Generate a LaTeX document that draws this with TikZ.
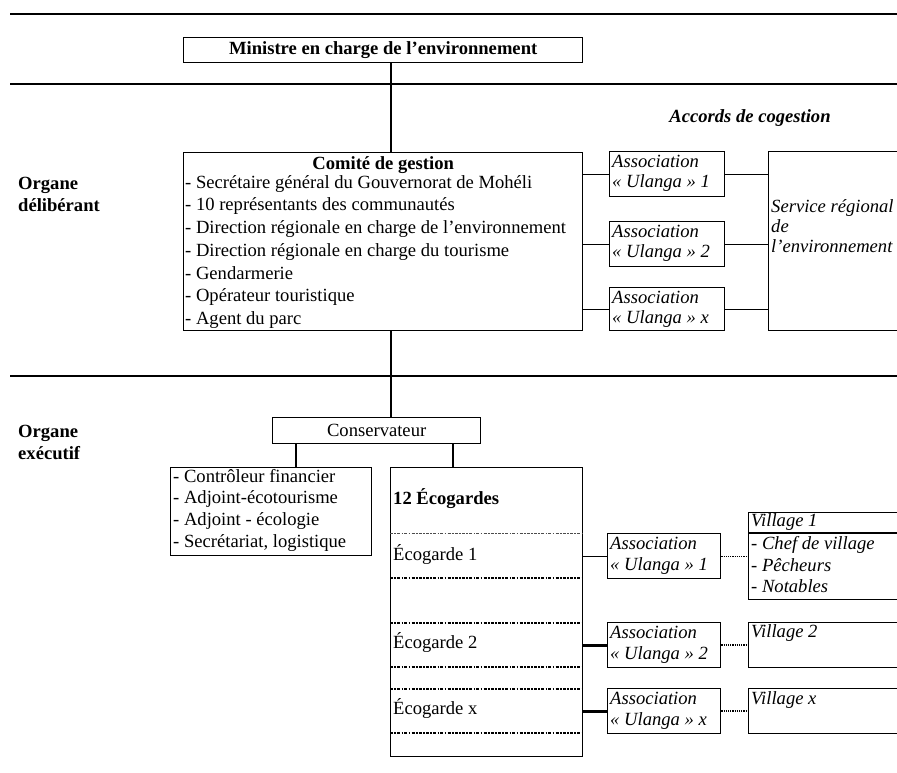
\documentclass[tikz,border=0pt]{standalone}
\usepackage{fontspec}
\setmainfont{Liberation Serif}
\usetikzlibrary{positioning}
\newcommand\diagfont{\fontsize{18.6}{22}\selectfont}

\begin{document}
\begin{tikzpicture}[x=1pt, y=-1pt,
    box/.style={draw, line width=1.3pt, inner sep=0pt, anchor=north west},
    rule/.style={line width=2.2pt},
    link/.style={line width=1.2pt},
    thicklink/.style={line width=2.8pt},
    dotlink/.style={line width=2.4pt, dash pattern=on 1.3pt off 0.9pt},
    sep/.style={line width=1.8pt, dash pattern=on 3pt off 1.3pt on 1.6pt off 1.3pt},
    lightsep/.style={line width=0.8pt, black!70, dash pattern=on 3pt off 1.3pt on 1.6pt off 1.3pt},
    txt/.style={font=\diagfont, inner sep=0pt, anchor=west, text height=12.5pt, text depth=4pt},
    bold/.style={txt, font=\diagfont\bfseries},
    ital/.style={txt, font=\diagfont\itshape},
    boldital/.style={txt, font=\diagfont\bfseries\itshape}
]
\clip (0,0) rectangle (897,772);
\coordinate (axe) at (391,0);

% horizontal rules between the levels
\draw[rule] (10,14) -- (905,14);
\draw[rule] (10,84) -- (905,84);
\draw[rule] (10,376) -- (905,376);

% ministre
\node[box, minimum width=399pt, minimum height=25pt, font=\diagfont\bfseries] (ministre) at (183,37) {Ministre en charge de l’environnement};

% organe deliberant
\node[bold] (delib1) at (18,185) {Organe};
\node[bold] (delib2) at (18,207) {délibérant};
\node[boldital, anchor=center] (accords) at (750,118) {Accords de cogestion};

\node[box, minimum width=399pt, minimum height=178pt] (comite) at (183,152) {};
\node[bold, anchor=center] (comite-titre) at (comite.north |- 0,165) {Comité de gestion};
\foreach \t [count=\i] in {%
    {- Secrétaire général du Gouvernorat de Mohéli},
    {- 10 représentants des communautés},
    {- Direction régionale en charge de l’environnement},
    {- Direction régionale en charge du tourisme},
    {- Gendarmerie},
    {- Opérateur touristique},
    {- Agent du parc}}
  \node[txt] (comite-\i) at (185,161.3+22.7*\i) {\t};

% associations (cogestion)
\node[box, minimum width=115pt, minimum height=45pt] (assoc1) at (609,151) {};
\node[box, minimum width=115pt, minimum height=45pt] (assoc2) at (609,221) {};
\node[box, minimum width=115pt, minimum height=43pt] (assocx) at (609,287) {};
\foreach \a/\n in {assoc1/1, assoc2/2, assocx/x} {
  \node[ital] at ([xshift=3pt, yshift=-12pt]\a.north west) {Association};
  \node[ital] at ([xshift=3pt, yshift=-32pt]\a.north west) {« Ulanga » \n};
}

\node[box, minimum width=160pt, minimum height=179pt] (service) at (768,151) {};
\node[ital] (service-1) at (771,208) {Service régional};
\node[ital] (service-2) at (771,228) {de};
\node[ital] (service-3) at (771,248) {l’environnement};

\draw[link] (ministre.south -| axe) -- (comite.north -| axe);
\foreach \a in {assoc1, assoc2, assocx} {
  \draw[link] (comite.east |- \a.west) -- (\a.west);
  \draw[link] (\a.east) -- (service.west |- \a.east);
}

% organe executif
\node[bold] (exec1) at (18,433) {Organe};
\node[bold] (exec2) at (18,455) {exécutif};

\node[box, minimum width=208pt, minimum height=26pt, font=\diagfont] (conservateur) at (272,417) {Conservateur};
\node[box, minimum width=201pt, minimum height=88pt] (adjoints) at (170,467) {};
\foreach \t [count=\i] in {%
    {- Contrôleur financier},
    {- Adjoint-écotourisme},
    {- Adjoint - écologie},
    {- Secrétariat, logistique}}
  \node[txt] (adjoints-\i) at (173,456.5+21.6*\i) {\t};

\node[box, minimum width=192pt, minimum height=289pt] (ecogardes) at (390,467) {};
\node[bold] (ecog-titre) at (393,500) {12 Écogardes};
\draw[lightsep] (390,533) -- (582,533);
\foreach \y in {578, 623, 667, 689, 733}
  \draw[sep] (390,\y) -- (582,\y);
\node[txt] (ecog-1) at (393,556) {Écogarde 1};
\node[txt] (ecog-2) at (393,644) {Écogarde 2};
\node[txt] (ecog-x) at (393,710) {Écogarde x};

\draw[link] (comite.south -| axe) -- (conservateur.north -| axe);
\draw[link] (conservateur.south -| 296,0) -- (adjoints.north -| 296,0);
\draw[link] (conservateur.south -| 453,0) -- (ecogardes.north -| 453,0);

% associations (ecogardes)
\node[box, minimum width=113pt, minimum height=45pt] (assocb1) at (607,533) {};
\node[box, minimum width=113pt, minimum height=45pt] (assocb2) at (607,622) {};
\node[box, minimum width=113pt, minimum height=45pt] (assocbx) at (607,688) {};
\foreach \a/\n in {assocb1/1, assocb2/2, assocbx/x} {
  \node[ital] at ([xshift=3pt, yshift=-12pt]\a.north west) {Association};
  \node[ital] at ([xshift=3pt, yshift=-33pt]\a.north west) {« Ulanga » \n};
}

% villages
\node[box, minimum width=170pt, minimum height=87pt] (village1) at (748,512) {};
\draw[link] (748,533) -- (920,533);
\node[ital] (village1-titre) at (751,522) {Village 1};
\node[ital] (village1-1) at (751,545) {- Chef de village};
\node[ital] (village1-2) at (751,567) {- Pêcheurs};
\node[ital] (village1-3) at (751,588) {- Notables};
\node[box, minimum width=170pt, minimum height=45pt] (village2) at (748,622) {};
\node[ital] (village2-titre) at (751,633) {Village 2};
\node[box, minimum width=170pt, minimum height=45pt] (villagex) at (748,688) {};
\node[ital] (villagex-titre) at (751,700) {Village x};

\draw[link] (ecogardes.east |- assocb1.west) -- (assocb1.west);
\draw[thicklink] (ecogardes.east |- assocb2.west) -- (assocb2.west);
\draw[thicklink] (ecogardes.east |- assocbx.west) -- (assocbx.west);
\draw[dotlink, line width=1.3pt] (assocb1.east) -- (village1.west |- assocb1.east);
\draw[dotlink] (assocb2.east) -- (village2.west |- assocb2.east);
\draw[dotlink] (assocbx.east) -- (villagex.west |- assocbx.east);
\end{tikzpicture}
\end{document}
